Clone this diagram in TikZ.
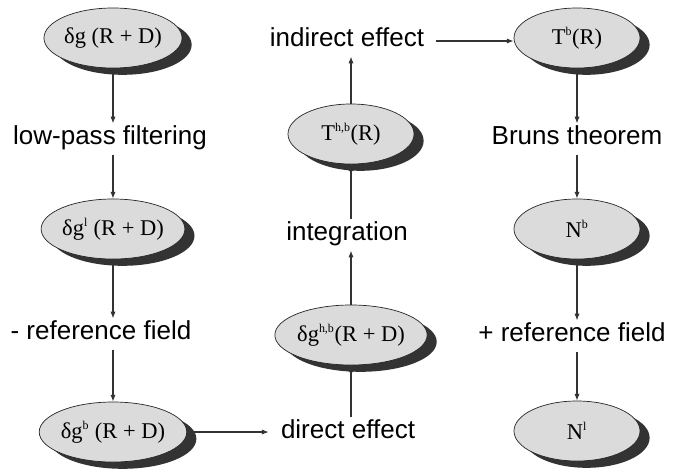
\documentclass[tikz,border=0pt]{standalone}
\usepackage{fontspec}
\setmainfont{Liberation Serif}
\setsansfont{Liberation Sans}
\usetikzlibrary{shapes.geometric,shadows,arrows.meta}

\newcommand{\upidx}[1]{\textsuperscript{\fontsize{8.5}{9}\selectfont #1}}

\begin{document}
\begin{tikzpicture}[x=0.025cm, y=-0.025cm,
  blob/.style={ellipse, draw=black!85, line width=0.5pt, fill=black!14,
    minimum width=3.15cm, minimum height=1.5cm, inner sep=0pt,
    font=\fontsize{16}{18}\selectfont,
    drop shadow={shadow xshift=0.24cm, shadow yshift=-0.17cm, fill=black!80, opacity=1}},
  steplabel/.style={font=\sffamily\fontsize{18.5}{21}\selectfont,
    text height=0.75em, text depth=0pt, inner xsep=0.3cm, inner ysep=0.25cm},
  flow/.style={-{Latex[length=1.7mm,width=1.3mm]}, line width=0.75pt, black!80}]

\useasboundingbox (0,0) rectangle (682,468);

% left column
\node[blob] (dg) at (113,38) {δg (R + D)};
\node[steplabel] (lowpass) at (110,139) {low-pass filtering};
\node[blob] (dgl) at (113,229) {δg\upidx{l} (R + D)};
\node[steplabel] (minusref) at (101,334) {- reference field};
\node[blob] (dgb) at (113,432) {δg\upidx{b} (R + D)};

% middle column
\node[steplabel] (direct) at (348,433) {direct effect};
\node[blob] (dghb) at (351,335) {δg\upidx{h,b}(R + D)};
\node[steplabel] (integ) at (347,235) {integration};
\node[blob] (thb) at (351,134) {T\upidx{h,b}(R)};
\node[steplabel] (indirect) at (347,41) {indirect effect};

% right column
\node[blob] (tb) at (577,38) {T\upidx{b}(R)};
\node[steplabel] (bruns) at (577,139) {Bruns theorem};
\node[blob] (nb) at (577,229) {N\upidx{b}};
\node[steplabel] (plusref) at (572,336) {+ reference field};
\node[blob] (nl) at (577,431) {N\upidx{l}};

\foreach \a/\b in {dg/lowpass, dgl/minusref, tb/bruns, nb/plusref}
{ \draw[flow] (\a.south) -- (\a.south |- \b.north); }

\foreach \a/\b in {lowpass/dgl, minusref/dgb, bruns/nb, plusref/nl}
{ \draw[flow] (\b.north |- \a.south) -- (\b.north); }

\foreach \a/\b in {dghb/integ, thb/indirect}
{ \draw[flow] (\a.north) -- (\a.north |- \b.south); }

\foreach \a/\b in {direct/dghb, integ/thb}
{ \draw[flow] (\b.south |- \a.north) -- (\b.south); }

\draw[flow] (dgb.east) -- (dgb.east -| direct.west);
\draw[flow] (indirect.east) -- (indirect.east -| tb.west);

\end{tikzpicture}
\end{document}
